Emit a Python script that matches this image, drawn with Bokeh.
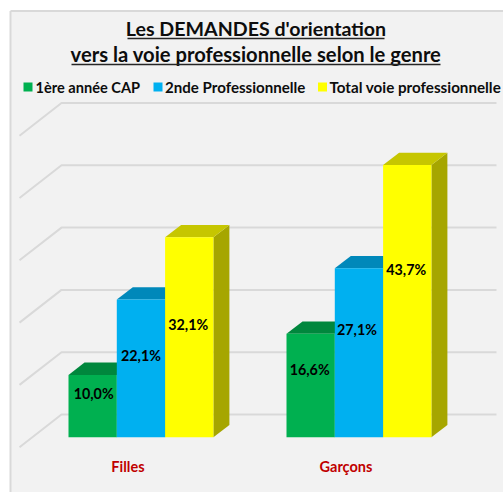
from bokeh.plotting import figure
from bokeh.models import Range1d
from bokeh.core.properties import value
from bokeh.embed import file_html
from bokeh.resources import INLINE

categories = ["Filles", "Garçons"]
series_names = ["1ère année CAP", "2nde Professionnelle", "Total voie professionnelle"]
cap = [10.0, 16.6]
seconde = [22.1, 27.1]
total = [32.1, 43.7]
grid_values = [0, 10, 20, 30, 40, 50]
title_lines = ["Les DEMANDES d'orientation", "vers la voie professionnelle selon le genre"]

series = [cap, seconde, total]
front = ["#00B050", "#00B0F0", "#FFFF00"]
top_c = ["#00873D", "#0088BA", "#C6C600"]
side_c = ["#007335", "#00749F", "#A6A600"]

W, H = 503, 492
OX, OY = 0, 0
PX_PER_UNIT = 6.23
BASE_Y = 436.7

def X(px):           # page pixel -> x data
    return px - OX
def Y(py):           # page pixel -> y data (value units)
    return (BASE_Y - py) / PX_PER_UNIT

p = figure(width=W, height=H, output_backend="svg", toolbar_location=None,
           x_range=Range1d(0, W), y_range=Range1d(Y(OY + H), Y(OY)),
           min_border=0, x_axis_type=None, y_axis_type=None)
p.grid.visible = False
p.outline_line_color = None
p.background_fill_color = "white"
p.border_fill_color = "white"

font = value("Lato")

# chart area
p.quad(left=[X(10)], right=[X(503)], top=[Y(10.5)], bottom=[Y(492)],
       fill_color="#F2F2F2", line_color=None)
p.line([X(10), X(10)], [Y(492), Y(10.5)], line_color="#D9D9D9", line_width=2)
p.line([X(10), X(503)], [Y(10.5), Y(10.5)], line_color="#D9D9D9", line_width=2)

# floor / wall grid
DX_WALL, DY_WALL = 42, 32.7
BACK_DY = 22.7
for g in grid_values:
    yb = g - 0 + BACK_DY / PX_PER_UNIT
    yf = yb - DY_WALL / PX_PER_UNIT
    p.line([X(19), X(61), X(496)], [yf, yb, yb], line_color="#D9D9D9", line_width=2)

# bars
CAT_X = [68.0, 286.0]
BAR_W = 48.3
DX, DY = 16, 12.3
dy_u = DY / PX_PER_UNIT
for c in range(len(categories)):
    for s, vals in enumerate(series):
        v = vals[c]
        l = X(CAT_X[c] + s * BAR_W)
        r = l + BAR_W
        p.patch([r, r + DX, r + DX, r], [0, dy_u, v + dy_u, v], fill_color=side_c[s], line_color=None)
        p.patch([l, l + DX, r + DX, r], [v, v + dy_u, v + dy_u, v], fill_color=top_c[s], line_color=None)
        p.quad(left=[l], right=[r], bottom=[0], top=[v], fill_color=front[s], line_color=None)

# data labels
LABEL_LIFT = [[13, 12.5, 12.5], [15.5, 23.5, 31.5]]
LABEL_SHIFT = [[1, 0, -1], [-1, -2, -1]]
for c in range(len(categories)):
    for s, vals in enumerate(series):
        v = vals[c]
        cx = X(CAT_X[c] + (s + 0.5) * BAR_W + LABEL_SHIFT[c][s])
        cy = v / 2 + LABEL_LIFT[c][s] / PX_PER_UNIT
        p.text([cx], [cy], text=[f"{v:.1f}%".replace(".", ",")], text_font=font, text_font_style="bold",
               text_font_size="14.3px", text_color="black", text_align="center", text_baseline="middle")

# category labels
for c, name in enumerate(categories):
    p.text([X(CAT_X[c] + 1.5 * BAR_W - 13)], [Y(466)], text=[name], text_font=font, text_font_style="bold",
           text_font_size="14.5px", text_color="#C00000", text_align="center", text_baseline="middle")

# title
for py, line, size, lo, hi in zip([27.5, 53.5], title_lines, ["19.6px", "20.2px"], [127, 71], [384, 440]):
    p.text([X(255.5)], [Y(py)], text=[line], text_font=font, text_font_style="bold",
           text_font_size=size, text_color="#0D0D0D", text_align="center", text_baseline="middle")
    p.line([X(lo), X(hi)], [Y(py + 10.5), Y(py + 10.5)], line_color="#262626", line_width=1.5)

# legend
for sq, tx, size, name, col in zip([23, 153, 317.5], [35, 164.5, 329], ["14.6px", "15.1px", "15.2px"], series_names, front):
    p.quad(left=[X(sq)], right=[X(sq + 9)], top=[Y(82)], bottom=[Y(91)], fill_color=col, line_color=None)
    p.text([X(tx)], [Y(86.5)], text=[name], text_font=font, text_font_style="bold",
           text_font_size=size, text_color="#0D0D0D", text_align="left", text_baseline="middle")

open("out.html", "w").write(file_html(p, INLINE))
